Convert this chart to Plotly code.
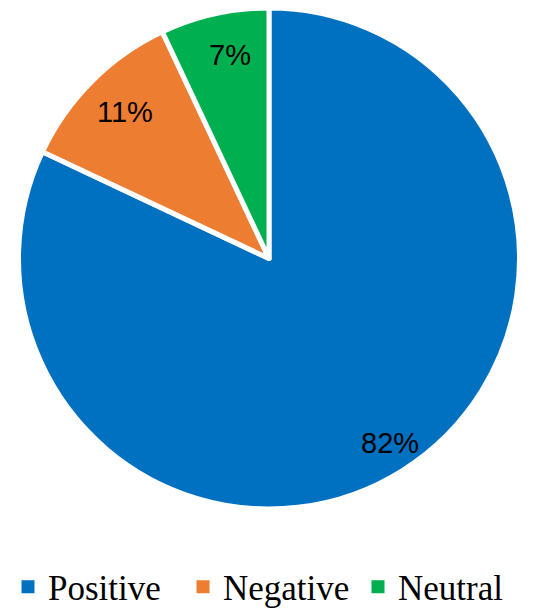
import math
import plotly.graph_objects as go

# sentiment shares (%)
labels = ['Positive', 'Negative', 'Neutral']
values = [82, 11, 7]
colors = ['#0070C0', '#ED7D31', '#00B050']

W, H = 550, 616
cx, cy, R = 261, 250, 251   # pie centre / radius in px (domain tuning)

fig = go.Figure()
fig.add_trace(go.Pie(
    labels=labels, values=values, sort=False, direction='clockwise', rotation=0,
    marker=dict(colors=colors, line=dict(color='white', width=5)),
    textinfo='none', hoverinfo='label+percent', showlegend=False,
    domain=dict(x=[(cx-R)/W, (cx+R)/W], y=[max(0, 1-(cy+R)/H), min(1, 1-(cy-R)/H)]),
))

# legend entries with solid square swatches (the pie's white outline would shrink them)
for lab, col in zip(labels, colors):
    fig.add_trace(go.Scatter(x=[None], y=[None], mode='markers', name=lab,
                             marker=dict(symbol='square', size=13, color=col)))

# data labels placed at the mid-angle of each slice, ~0.85 of the radius (Excel style)
lab_c = (268, 255)
lab_r = 0.855 * 249
tot = sum(values)
cum = 0
for v in values:
    mid = (cum + v/2) / tot * 2*math.pi
    cum += v
    px = lab_c[0] + lab_r*math.sin(mid)
    py = lab_c[1] - lab_r*math.cos(mid)
    fig.add_annotation(x=px/W, y=1-py/H, xref='paper', yref='paper', showarrow=False,
                       text=f'{v}%', xanchor='center', yanchor='middle',
                       font=dict(family='Liberation Sans, Arial, sans-serif', size=29, color='black'))

fig.update_layout(
    width=W, height=H,
    margin=dict(l=0, r=0, t=0, b=0),
    paper_bgcolor='white', plot_bgcolor='white',
    xaxis=dict(visible=False), yaxis=dict(visible=False),
    showlegend=True,
    legend=dict(orientation='h', x=0.5 - 17/W, xanchor='center', y=1-579/H, yanchor='middle',
                font=dict(family='Liberation Serif, Times New Roman, serif', size=35, color='black'),
                itemwidth=30, entrywidth=130, entrywidthmode='pixels', traceorder='normal'),
)
fig.write_html('out.html')
